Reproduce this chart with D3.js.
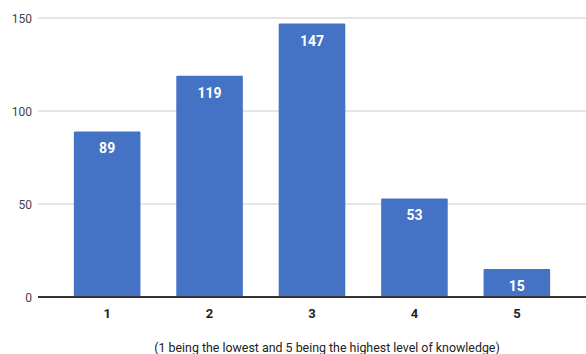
<!DOCTYPE html>
<html><head><meta charset="utf-8">
<script src="https://cdn.jsdelivr.net/npm/d3@7"></script>
<style>body{margin:0;background:#fff;}svg{display:block;font-family:Roboto, Arial, sans-serif;}</style>
</head><body>
<svg id="c" width="586" height="354"></svg>
<script>
const categories = ["1","2","3","4","5"];
const values = [89,119,147,53,15];
const yTicks = [0,50,100,150];
const caption = "(1 being the lowest and 5 being the highest level of knowledge)";

const svg = d3.select("#c");
const x = d3.scaleBand().domain(categories).range([38,586]).paddingInner(0.35).paddingOuter(0.35);
const y = d3.scaleLinear().domain([0,150]).range([297,18]);

svg.append("g").selectAll("line").data(yTicks.filter(d=>d>0)).join("line")
  .attr("x1",38).attr("x2",586).attr("y1",d=>y(d)).attr("y2",d=>y(d))
  .attr("stroke","#cccccc").attr("stroke-width",1);

svg.append("g").selectAll("text").data(yTicks).join("text")
  .attr("x",32).attr("y",d=>y(d)+4.5).attr("text-anchor","end")
  .attr("font-size",12).attr("fill","#444").text(d=>d);

svg.append("g").selectAll("rect").data(values).join("rect")
  .attr("x",(d,i)=>x(categories[i])).attr("width",x.bandwidth())
  .attr("y",d=>y(d)).attr("height",d=>y(0)-y(d))
  .attr("fill","#4472c4").attr("rx",1);

svg.append("g").selectAll("text").data(values).join("text")
  .attr("x",(d,i)=>x(categories[i])+x.bandwidth()/2).attr("y",d=>y(d)+22)
  .attr("text-anchor","middle").attr("font-size",14).attr("font-weight","bold")
  .attr("fill","#fff").text(d=>d);

svg.append("line").attr("x1",38).attr("x2",586).attr("y1",y(0)).attr("y2",y(0))
  .attr("stroke","#333").attr("stroke-width",2);

svg.append("g").selectAll("text").data(categories).join("text")
  .attr("x",d=>x(d)+x.bandwidth()/2).attr("y",318).attr("text-anchor","middle")
  .attr("font-size",13).attr("font-weight","bold").attr("fill","#222").text(d=>d);

svg.append("text").attr("x",327).attr("y",352).attr("text-anchor","middle")
  .attr("font-size",12.4).attr("fill","#222").text(caption);
</script>
</body></html>
